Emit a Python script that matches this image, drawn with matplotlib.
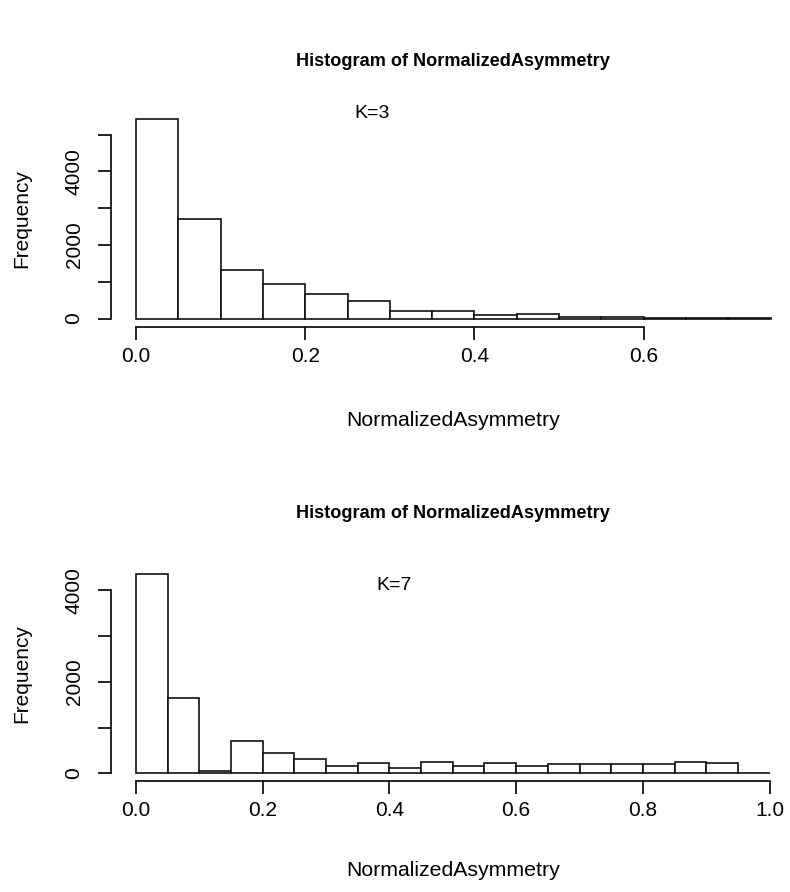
import matplotlib
matplotlib.use("Agg")
import matplotlib.pyplot as plt
import numpy as np

plt.rcParams['font.family'] = ['Liberation Sans', 'DejaVu Sans']

# bin edges and counts (bin width 0.05)
edges_k3 = np.round(np.arange(0, 0.75 + 0.001, 0.05), 2)
counts_k3 = [5435, 2717, 1323, 940, 660, 462, 209, 217, 85, 120, 38, 28, 4, 2, 1]

edges_k7 = np.round(np.arange(0, 1.0 + 0.001, 0.05), 2)
counts_k7 = [4352, 1651, 40, 699, 450, 312, 166, 225, 122, 254,
             166, 225, 166, 196, 196, 196, 196, 254, 225, 3]

xticks_k3 = [0.0, 0.2, 0.4, 0.6]
xticks_k7 = [0.0, 0.2, 0.4, 0.6, 0.8, 1.0]
yticks_k3 = [0, 1000, 2000, 3000, 4000, 5000]
ylabels_k3 = ['0', '', '2000', '', '4000', '']
yticks_k7 = [0, 1000, 2000, 3000, 4000]
ylabels_k7 = ['0', '', '2000', '', '4000']

title = "Histogram of NormalizedAsymmetry"
xlab = "NormalizedAsymmetry"

W, H = 790, 892
fig = plt.figure(figsize=(W / 100, H / 100), dpi=100)


def px(x0, y0, x1, y1):
    # pixel box -> figure fraction rect
    return [x0 / W, 1 - y1 / H, (x1 - x0) / W, (y1 - y0) / H]


def rhist(rect, edges, counts, xticks, yticks, ylabels, ktext, kxy, title_y, xlab_y):
    ax = fig.add_axes(rect)
    edges = np.asarray(edges)
    ax.bar(edges[:-1], counts, width=np.diff(edges), align='edge',
           facecolor='white', edgecolor='#111111', linewidth=1.2)
    span = edges[-1] - edges[0]
    ax.set_xlim(edges[0] - 0.04 * span, edges[-1] + 0.04 * span)
    ax.set_ylim(-0.04 * max(counts), 1.04 * max(counts))
    for s in ['top', 'right']:
        ax.spines[s].set_visible(False)
    for s in ['left', 'bottom']:
        ax.spines[s].set_linewidth(1.2)
    ax.spines['bottom'].set_bounds(xticks[0], xticks[-1])
    ax.spines['left'].set_bounds(yticks[0], yticks[-1])
    ax.set_xticks(xticks)
    ax.set_xticklabels(['%.1f' % v for v in xticks])
    ax.set_yticks(yticks)
    ax.set_yticklabels(ylabels, rotation=90, va='center')
    ax.tick_params(direction='out', length=9.5, width=1.2, labelsize=15,
                   colors='black')
    ax.tick_params(axis='x', pad=5)
    ax.tick_params(axis='y', pad=10)
    ax.text(kxy[0], kxy[1], ktext, fontsize=14, ha='center', va='center')
    bb = ax.get_position()
    cx = (bb.x0 + bb.x1) / 2
    fig.text(cx, 1 - title_y / H, title, fontsize=13.1, fontweight='bold',
             ha='center', va='center')
    fig.text(cx, 1 - xlab_y / H, xlab, fontsize=15.3, ha='center', va='center')
    fig.text(22 / W, (bb.y0 + bb.y1) / 2, "Frequency", fontsize=15,
             rotation=90, ha='center', va='center')
    return ax


rhist(px(110.6, 110.5, 796, 326.5), edges_k3, counts_k3, xticks_k3,
      yticks_k3, ylabels_k3, "K=3", (0.279, 5584), 62, 420)
rhist(px(110.6, 566, 795, 781.3), edges_k7, counts_k7, xticks_k7,
      yticks_k7, ylabels_k7, "K=7", (0.408, 4111), 513, 870)

fig.savefig("out.png", dpi=100, facecolor='white')
